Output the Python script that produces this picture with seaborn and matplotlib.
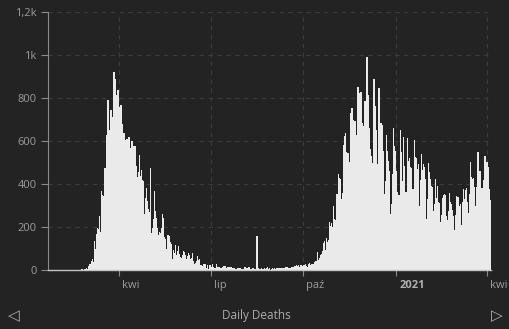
import numpy as np
import pandas as pd
import matplotlib
matplotlib.use("Agg")
import matplotlib.pyplot as plt
import matplotlib.dates as mdates
import matplotlib.transforms as mtransforms
import seaborn as sns

# ---------------- data (daily deaths) ----------------
start_date = "2020-01-22"
jan_2020 = [0, 0, 0, 0, 0, 0, 0, 0, 0, 0]
feb_2020 = [0, 0, 0, 0, 0, 0, 0, 0, 0, 0, 0, 0, 0, 0, 0, 0, 0, 0, 0, 0,
            1, 1, 1, 4, 3, 2, 5, 4, 8]
mar_2020 = [5, 18, 27, 28, 41, 49, 36, 133, 97, 168, 196, 189, 250, 175, 368, 349,
            345, 475, 427, 627, 793, 651, 601, 743, 683, 712, 919, 889, 756, 812, 837]
apr_2020 = [727, 760, 766, 681, 525, 636, 604, 542, 610, 570, 619, 431, 566, 602, 578,
            525, 575, 482, 433, 454, 534, 437, 464, 420, 415, 260, 333, 382, 323, 285]
may_2020 = [269, 474, 174, 195, 236, 369, 274, 243, 194, 165, 179, 172, 195, 262, 242,
            153, 145, 99, 162, 161, 156, 130, 119, 50, 92, 78, 117, 70, 87, 111, 75]
jun_2020 = [60, 55, 71, 88, 85, 72, 53, 65, 79, 71, 53, 56, 78, 44, 26, 34, 43, 66, 47,
            49, 24, 23, 18, 30, 30, 30, 8, 24, 6, 23]
jul_2020 = [21, 15, 30, 15, 7, 8, 30, 15, 12, 12, 7, 7, 13, 17, 20, 20, 11, 13, 9, 13,
            15, 9, 11, 10, 5, 5, 5, 11, 6, 9, 3]
aug_2020 = [5, 4, 3, 12, 10, 10, 3, 13, 4, 2, 6, 10, 6, 3, 4, 158, 7, 4, 5, 9, 6, 3, 7,
            4, 7, 13, 5, 9, 1, 4, 7]
sep_2020 = [6, 10, 6, 10, 10, 7, 8, 10, 10, 10, 11, 7, 14, 13, 14, 9, 10, 10, 14, 15,
            14, 20, 20, 23, 17, 24, 15, 24, 24, 19]
oct_2020 = [23, 23, 27, 18, 16, 28, 31, 22, 28, 29, 26, 39, 41, 43, 83, 47, 55, 69, 73,
            89, 127, 136, 91, 151, 128, 141, 221, 205, 217, 199, 297]
nov_2020 = [236, 233, 353, 352, 445, 426, 425, 331, 356, 580, 623, 636, 550, 544, 546,
            504, 731, 753, 699, 653, 692, 562, 630, 853, 722, 822, 827, 686, 541, 672]
dec_2020 = [785, 684, 993, 814, 662, 564, 528, 491, 499, 887, 761, 649, 484, 491, 846,
            680, 683, 674, 553, 352, 415, 628, 553, 505, 459, 261, 305, 445, 659, 575, 555]
jan_2021 = [462, 364, 347, 348, 649, 548, 414, 617, 483, 361, 361, 616, 507, 522, 477,
            475, 377, 377, 603, 524, 521, 472, 492, 299, 420, 541, 467, 492, 477, 421, 237]
feb_2021 = [329, 499, 456, 421, 391, 385, 274, 307, 422, 336, 391, 316, 311, 221, 258,
            336, 347, 353, 347, 253, 232, 274, 356, 318, 308, 280, 251, 188]
mar_2021 = [255, 343, 339, 339, 297, 307, 207, 318, 376, 332, 373, 380, 317, 264, 354,
            502, 431, 423, 430, 386, 300, 386, 551, 460, 460, 380, 380, 297, 417, 529, 467]
apr_2021 = [501, 481, 376, 326]

y_ticks = [0, 200, 400, 600, 800, 1000, 1200]
y_tick_labels = ["0", "200", "400", "600", "800", "1k", "1,2k"]
x_tick_dates = ["2020-04-01", "2020-07-01", "2020-10-01", "2021-01-01", "2021-04-01"]
x_tick_labels = ["kwi", "lip", "paź", "2021", "kwi"]
bold_labels = ["2021"]
x_range = ["2020-01-21 14:00", "2021-04-05"]
title = "Daily Deaths"

# ---------------- build frame ----------------
month_blocks = [jan_2020, feb_2020, mar_2020, apr_2020, may_2020, jun_2020, jul_2020,
                aug_2020, sep_2020, oct_2020, nov_2020, dec_2020, jan_2021, feb_2021,
                mar_2021, apr_2021]
deaths = np.concatenate([np.asarray(b, dtype=float) for b in month_blocks])
dates = pd.date_range(start_date, periods=len(deaths), freq="D")
df = pd.DataFrame({"day": mdates.date2num(dates), "deaths": deaths})

# ---------------- style ----------------
BG = "#232323"
BAR = "#eaeaea"
GRID = "#3c3c3c"
TXT = "#9c9c9c"

sns.set_theme(style="dark")
plt.rcParams["font.family"] = ["Open Sans", "DejaVu Sans"]

W, H = 509, 329
fig = plt.figure(figsize=(W / 100, H / 100), dpi=100, facecolor=BG)
ax = fig.add_axes([48 / W, 1 - 270 / H, 443 / W, 258 / H])
ax.set_facecolor(BG)

sns.barplot(data=df, x="day", y="deaths", native_scale=True, orient="x",
            width=1.25, color=BAR, saturation=1, errorbar=None,
            linewidth=0, ax=ax)
for p in ax.patches:
    p.set_antialiased(False)

ax.set_xlim(mdates.date2num(pd.Timestamp(x_range[0])), mdates.date2num(pd.Timestamp(x_range[1])))
ax.set_ylim(y_ticks[0], y_ticks[-1])
ax.set_yticks(y_ticks)
ax.set_yticklabels(y_tick_labels)
ax.set_xticks(mdates.date2num(pd.to_datetime(x_tick_dates)))
ax.set_xticklabels(x_tick_labels)
ax.set_xlabel("")
ax.set_ylabel("")

ax.set_axisbelow(True)
ax.grid(True, axis="both", color=GRID, linestyle=(0, (4, 4)), linewidth=0.8)

for s in ["top", "right"]:
    ax.spines[s].set_visible(False)
ax.spines["left"].set_color("#8a8a8a")
ax.spines["left"].set_linewidth(0.8)
ax.spines["bottom"].set_color("#c4c4c4")
ax.spines["bottom"].set_linewidth(1.0)

ax.tick_params(axis="y", colors="#8a8a8a", labelcolor=TXT, length=5, width=0.8,
               pad=3, labelsize=8, left=True)
ax.tick_params(axis="x", colors="#8a8a8a", labelcolor=TXT, length=4, width=0.8,
               pad=3, labelsize=8, bottom=True)

offset = mtransforms.ScaledTranslation(3 / 100, 0, fig.dpi_scale_trans)
for lab in ax.get_xticklabels():
    lab.set_horizontalalignment("left")
    lab.set_transform(lab.get_transform() + offset)
    if lab.get_text() in bold_labels:
        lab.set_fontweight("bold")
        lab.set_color("#b0b0b0")

fig.text(256 / W, 1 - 316 / H, title, ha="center", va="center", color="#ababab", fontsize=8.5)
fig.text(14 / W, 1 - 316 / H, "◁", ha="center", va="center", color="#b0b0b0",
         fontsize=11, family=["DejaVu Sans"])
fig.text(497 / W, 1 - 316 / H, "▷", ha="center", va="center", color="#b0b0b0",
         fontsize=11, family=["DejaVu Sans"])

fig.savefig("out.png", dpi=100, facecolor=BG)
